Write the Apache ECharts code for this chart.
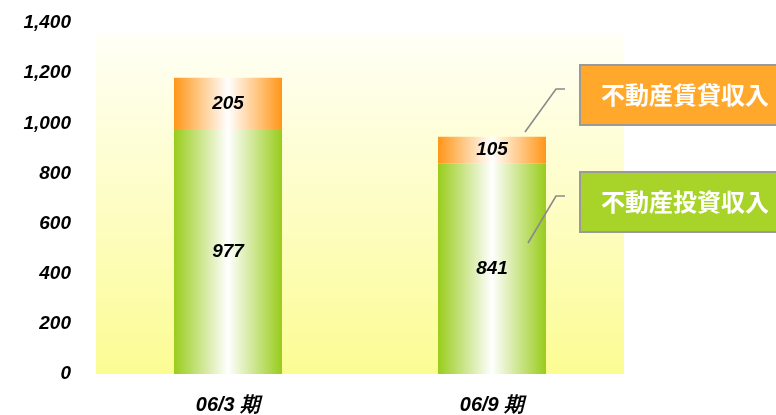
<!DOCTYPE html>
<html>
<head>
<meta charset="utf-8">
<script src="https://cdn.jsdelivr.net/npm/echarts@6/dist/echarts.min.js"></script>
<style>
  html, body { margin: 0; padding: 0; background: #ffffff; }
  #chart { width: 776px; height: 415px; }
</style>
</head>
<body>
<div id="chart"></div>
<script>
// Periods and income breakdown (unit: 百万円)
var categories = ['06/3 期', '06/9 期'];
var seriesNames = ['不動産投資収入', '不動産賃貸収入'];
var investIncome = [977, 841];
var rentalIncome = [205, 105];
var yTicks = [0, 200, 400, 600, 800, 1000, 1200, 1400];

var chart = echarts.init(document.getElementById('chart'), null, { renderer: 'canvas' });

function barGradient(edge) {
  return new echarts.graphic.LinearGradient(0, 0, 1, 0, [
    { offset: 0, color: edge },
    { offset: 0.5, color: '#ffffff' },
    { offset: 1, color: edge }
  ]);
}

var font = 'Liberation Sans, Arial, sans-serif';

var labelStyle = {
  show: true,
  position: 'inside',
  color: '#000000',
  fontFamily: font,
  fontStyle: 'italic',
  fontWeight: 'bold',
  fontSize: 19
};

// Callout boxes with leader lines naming each stacked segment
function callout(name, fill, boxTop, lineFrom, lineKnee) {
  return [
    {
      type: 'polyline',
      shape: { points: [lineFrom, lineKnee, [lineKnee[0] + 9, lineKnee[1]]] },
      style: { stroke: '#8a8a8a', lineWidth: 1.6, fill: null },
      z: 10
    },
    {
      type: 'rect',
      shape: { x: 580, y: boxTop, width: 210, height: 60 },
      style: { fill: fill, stroke: '#9a9a9a', lineWidth: 2 },
      z: 10
    },
    {
      type: 'text',
      x: 685, y: boxTop + 30,
      style: {
        text: name,
        fill: '#ffffff',
        font: 'bold 24px "Noto Sans CJK JP", sans-serif',
        textAlign: 'center',
        textVerticalAlign: 'middle'
      },
      z: 11
    }
  ];
}

var option = {
  animation: false,
  backgroundColor: '#ffffff',
  grid: {
    left: 96, right: 152, top: 23, bottom: 41,
    show: true,
    borderWidth: 0,
    backgroundColor: new echarts.graphic.LinearGradient(0, 0, 0, 1, [
      { offset: 0, color: '#ffffff' },
      { offset: 0.028, color: '#ffffff' },
      { offset: 0.03, color: '#fffff7' },
      { offset: 1, color: '#fcfc94' }
    ])
  },
  xAxis: {
    type: 'category',
    data: categories,
    axisLine: { show: false },
    axisTick: { show: false },
    axisLabel: {
      margin: 21,
      color: '#000000',
      fontFamily: font,
      fontStyle: 'italic',
      fontWeight: 'bold',
      fontSize: 20
    }
  },
  yAxis: {
    type: 'value',
    min: yTicks[0],
    max: yTicks[yTicks.length - 1],
    interval: 200,
    axisLine: { show: false },
    axisTick: { show: false },
    splitLine: { show: false },
    axisLabel: {
      margin: 25,
      color: '#000000',
      fontFamily: font,
      fontStyle: 'italic',
      fontWeight: 'bold',
      fontSize: 19,
      formatter: function (v) { return v.toLocaleString('en-US'); }
    }
  },
  series: [
    {
      name: seriesNames[0],
      type: 'bar',
      stack: 'income',
      barWidth: 108,
      data: investIncome,
      itemStyle: { color: barGradient('#99cc1c') },
      label: labelStyle
    },
    {
      name: seriesNames[1],
      type: 'bar',
      stack: 'income',
      barWidth: 108,
      data: rentalIncome,
      itemStyle: { color: barGradient('#ff9618') },
      label: labelStyle
    }
  ],
  graphic: []
    .concat(callout(seriesNames[1], '#ffa82c', 65, [525, 132], [556, 89]))
    .concat(callout(seriesNames[0], '#a8d42a', 172, [528, 243], [556, 196]))
};

chart.setOption(option);
</script>
</body>
</html>
